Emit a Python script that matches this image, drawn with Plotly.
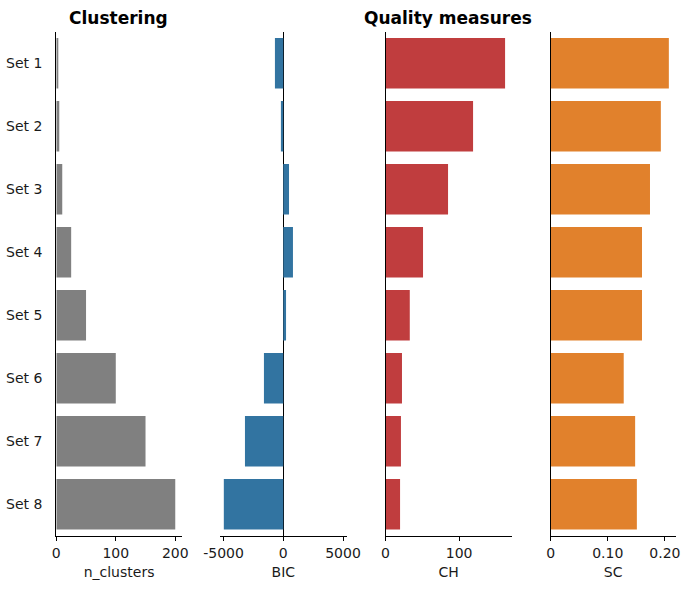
import plotly.graph_objects as go

categories = ["Set 1", "Set 2", "Set 3", "Set 4", "Set 5", "Set 6", "Set 7", "Set 8"]
n_clusters = [2, 5, 10, 25, 50, 100, 150, 200]
bic = [-700, -200, 480, 810, 230, -1620, -3210, -4980]
ch = [162.5, 119, 85, 51, 33, 22.4, 21, 19.8]
sc = [0.207, 0.193, 0.174, 0.160, 0.160, 0.128, 0.148, 0.151]

W, H = 690, 590
FONT = "DejaVu Sans"

panels = [
    dict(vals=n_clusters, color="#808080", title="n_clusters", rng=[0, 211],
         tickvals=[0, 100, 200], ticktext=["0", "100", "200"], dom=(56.3, 181.8)),
    dict(vals=bic, color="#3274a1", title="BIC", rng=[-5300, 5310],
         tickvals=[-5000, 0, 5000], ticktext=["-5000", "0", "5000"], dom=(220, 346.7)),
    dict(vals=ch, color="#c03d3e", title="CH", rng=[0, 171.5],
         tickvals=[0, 100], ticktext=["0", "100"], dom=(385.5, 511.7)),
    dict(vals=sc, color="#e1812c", title="SC", rng=[0, 0.219],
         tickvals=[0, 0.1, 0.2], ticktext=["0", "0.10", "0.20"], dom=(550.6, 675.7)),
]

fig = go.Figure()
ydom = [1 - 535.7 / H, 1 - 31.7 / H]
for i, p in enumerate(panels):
    n = i + 1
    xa = "x" if n == 1 else f"x{n}"
    ya = "y" if n == 1 else f"y{n}"
    fig.add_trace(go.Bar(
        y=categories, x=p["vals"], orientation="h", width=0.8,
        marker=dict(color=p["color"], line=dict(width=0)),
        xaxis=xa, yaxis=ya, showlegend=False,
    ))
    xkey = "xaxis" if n == 1 else f"xaxis{n}"
    ykey = "yaxis" if n == 1 else f"yaxis{n}"
    fig.update_layout(**{
        xkey: dict(
            domain=[p["dom"][0] / W, p["dom"][1] / W], anchor=ya, automargin=False,
            range=p["rng"], tickvals=p["tickvals"], ticktext=p["ticktext"],
            showgrid=False, zeroline=(n == 2), zerolinecolor="black", zerolinewidth=1.2,
            showline=True, linecolor="black", linewidth=1.2,
            ticks="outside", ticklen=4, tickwidth=1.2, tickcolor="black",
            tickfont=dict(family=FONT, size=14, color="#1a1a1a"),
            title=dict(text=p["title"], font=dict(family=FONT, size=14, color="#1a1a1a"), standoff=7),
        ),
        ykey: dict(
            domain=ydom, anchor=xa, type="category", automargin=False,
            categoryorder="array", categoryarray=categories,
            range=[7.5, -0.5], showgrid=False, zeroline=False,
            showline=(n != 2), linecolor="black", linewidth=1.2,
            ticks="", showticklabels=(n == 1), ticklabelstandoff=10,
            tickfont=dict(family=FONT, size=14, color="#1a1a1a"),
        ),
    })

fig.add_annotation(text="<b>Clustering</b>", x=118.5 / W, y=1 - 17.5 / H, xref="paper", yref="paper",
                   xanchor="center", yanchor="middle", showarrow=False,
                   font=dict(family=FONT, size=17, color="black"))
fig.add_annotation(text="<b>Quality measures</b>", x=448 / W, y=1 - 17.5 / H, xref="paper", yref="paper",
                   xanchor="center", yanchor="middle", showarrow=False,
                   font=dict(family=FONT, size=17, color="black"))

fig.update_layout(width=W, height=H, margin=dict(l=0, r=0, t=0, b=0),
                  plot_bgcolor="white", paper_bgcolor="white", bargap=0.2)
fig.write_html("out.html")
